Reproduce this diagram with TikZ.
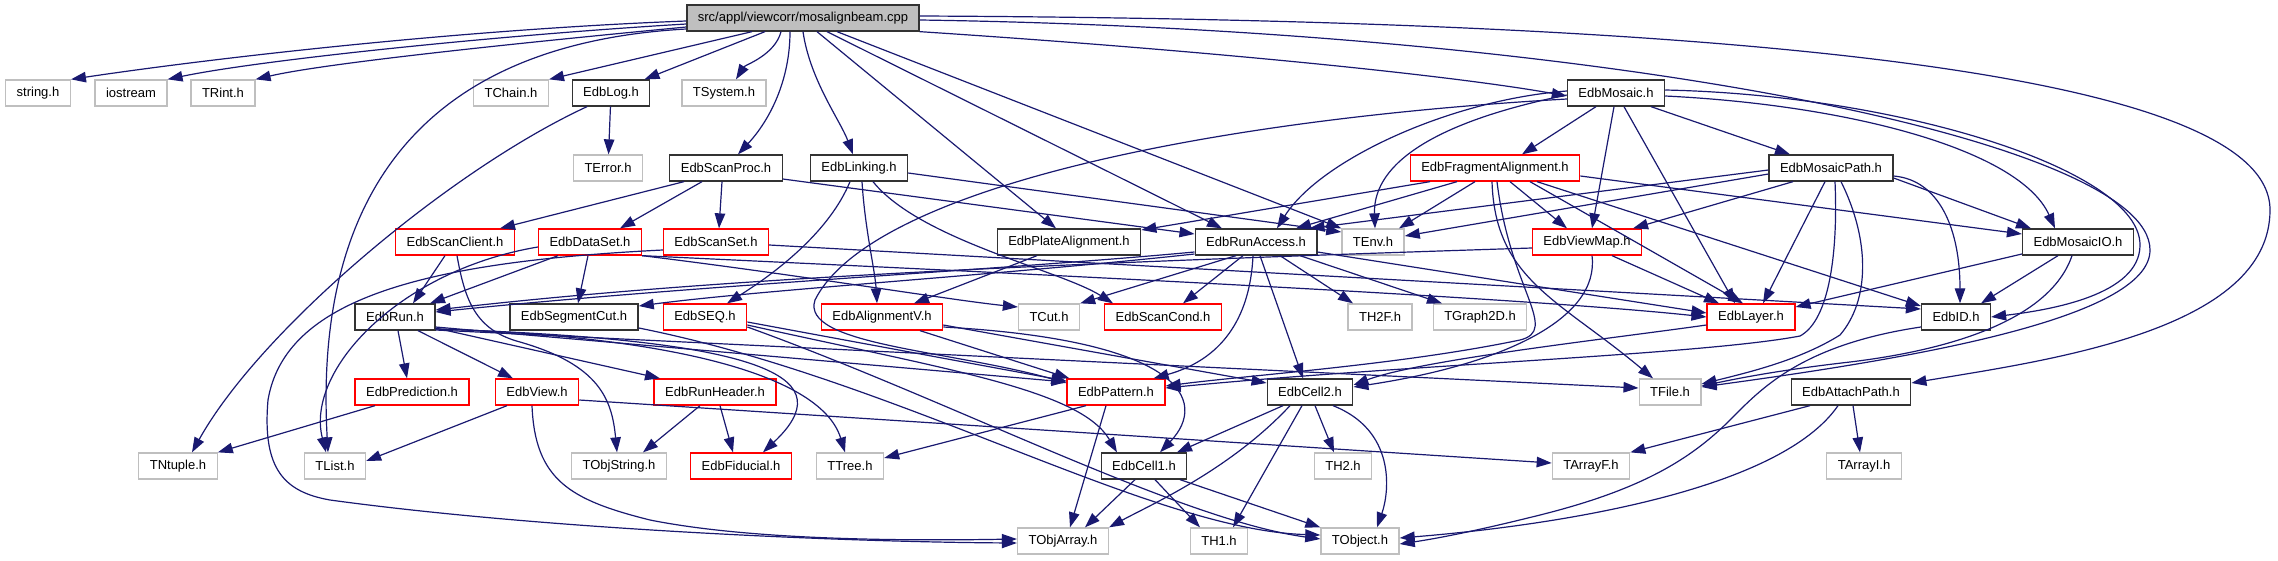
\documentclass[tikz,border=0pt]{standalone}
\usepackage{fontspec}
\setmainfont{Liberation Sans}
\usetikzlibrary{arrows.meta}

\definecolor{incblue}{HTML}{191970}
\definecolor{sysgray}{HTML}{BFBFBF}

\tikzset{
  file/.style={rectangle, minimum height=26pt, inner xsep=11pt, inner ysep=0pt,
    line width=1.3pt, fill=white, font=\fontsize{13}{15}\selectfont},
  doc/.style={file, draw=black!80},
  trunc/.style={file, draw=red},
  sys/.style={file, draw=sysgray},
  inc/.style={draw=incblue, line width=1.2pt, -{Triangle[length=15pt,width=10.5pt]}}
}

\begin{document}
\begin{tikzpicture}[x=1pt,y=-1pt]
    \useasboundingbox (0,0) rectangle (2278,560);

    % rank 0
    \node[doc, fill=sysgray] (root) at (803,18) {src/appl/viewcorr/mosalignbeam.cpp};
    % rank 1
    \node[sys] (strng) at (38,93) {string.h};
    \node[sys] (iostrm) at (131,93) {iostream};
    \node[sys] (trint) at (223,93) {TRint.h};
    \node[sys] (tchain) at (511,93) {TChain.h};
    \node[doc] (edblog) at (611,93) {EdbLog.h};
    \node[sys] (tsystem) at (724,93) {TSystem.h};
    \node[doc] (edbmosaic) at (1616,93) {EdbMosaic.h};
    % rank 2
    \node[sys] (terror) at (608,168) {TError.h};
    \node[doc] (scanproc) at (726,168) {EdbScanProc.h};
    \node[doc] (linking) at (859,168) {EdbLinking.h};
    \node[trunc] (fragalign) at (1495,168) {EdbFragmentAlignment.h};
    \node[doc] (mosaicpath) at (1831,168) {EdbMosaicPath.h};
    % rank 3
    \node[trunc] (scanclient) at (455,242) {EdbScanClient.h};
    \node[trunc] (dataset) at (590,242) {EdbDataSet.h};
    \node[trunc] (scanset) at (716,242) {EdbScanSet.h};
    \node[doc] (platealign) at (1069,242) {EdbPlateAlignment.h};
    \node[doc] (runaccess) at (1256,242) {EdbRunAccess.h};
    \node[sys] (tenv) at (1373,242) {TEnv.h};
    \node[trunc] (viewmap) at (1587,242) {EdbViewMap.h};
    \node[doc] (mosaicio) at (2078,242) {EdbMosaicIO.h};
    % rank 4
    \node[doc] (edbrun) at (395,317) {EdbRun.h};
    \node[doc] (segcut) at (574,317) {EdbSegmentCut.h};
    \node[trunc] (seq) at (705,317) {EdbSEQ.h};
    \node[trunc] (alignv) at (882,317) {EdbAlignmentV.h};
    \node[sys] (tcut) at (1049,317) {TCut.h};
    \node[trunc] (scancond) at (1163,317) {EdbScanCond.h};
    \node[sys] (thtwof) at (1380,317) {TH2F.h};
    \node[sys] (tgraph) at (1480,317) {TGraph2D.h};
    \node[trunc] (edblayer) at (1751,317) {EdbLayer.h};
    \node[doc] (edbid) at (1956,317) {EdbID.h};
    % rank 5
    \node[trunc] (prediction) at (412,392) {EdbPrediction.h};
    \node[trunc] (edbview) at (537,392) {EdbView.h};
    \node[trunc] (runheader) at (715,392) {EdbRunHeader.h};
    \node[trunc] (edbpattern) at (1116,392) {EdbPattern.h};
    \node[doc] (cellb) at (1310,392) {EdbCell2.h};
    \node[sys] (tfile) at (1670,392) {TFile.h};
    \node[doc] (attach) at (1851,392) {EdbAttachPath.h};
    % rank 6
    \node[sys] (tntuple) at (178,466) {TNtuple.h};
    \node[sys] (tlist) at (335,466) {TList.h};
    \node[sys] (tobjstring) at (619,466) {TObjString.h};
    \node[trunc] (fiducial) at (741,466) {EdbFiducial.h};
    \node[sys] (ttree) at (850,466) {TTree.h};
    \node[doc] (cella) at (1144,466) {EdbCell1.h};
    \node[sys] (thtwo) at (1343,466) {TH2.h};
    \node[sys] (tarrayf) at (1591,466) {TArrayF.h};
    \node[sys] (tarrayi) at (1864,466) {TArrayI.h};
    % rank 7
    \node[sys] (tobjarray) at (1063,541) {TObjArray.h};
    \node[sys] (thone) at (1219,541) {TH1.h};
    \node[sys] (tobject) at (1360,541) {TObject.h};

    % mosalignbeam.cpp
    \draw[inc] ([yshift=-3pt]root.west) .. controls (450,30) and (200,60) .. (strng.north east);
    \draw[inc] ([yshift=-6pt]root.west) .. controls (500,35) and (260,60) .. (iostrm.north east);
    \draw[inc] ([yshift=-9pt]root.west) .. controls (550,40) and (330,62) .. (trint.north east);
    \draw[inc] ([yshift=-11pt]root.west) .. controls (400,45) and (315,220) .. ([xshift=-7pt]tlist.north);
    \draw[inc] ([xshift=-51pt]root.south) -- (tchain.north east);
    \draw[inc] ([xshift=-38pt]root.south) -- ([xshift=-6pt]edblog.north east);
    \draw[inc] ([xshift=-22pt]root.south) .. controls (775,55) and (745,65) .. ([xshift=12pt]tsystem.north);
    \draw[inc] ([xshift=-13pt]root.south) .. controls (790,80) and (770,120) .. ([xshift=12pt]scanproc.north);
    \draw[inc] (root.south) .. controls (810,80) and (840,120) .. ([xshift=-6pt]linking.north);
    \draw[inc] ([xshift=14pt]root.south) -- ([xshift=-13pt]platealign.north);
    \draw[inc] ([xshift=24pt]root.south) -- ([xshift=-34pt]runaccess.north);
    \draw[inc] ([xshift=34pt]root.south) -- (tenv.north west);
    \draw[inc] (root.south east) .. controls (1200,50) and (1450,75) .. ([yshift=-3pt]edbmosaic.west);
    \draw[inc] ([yshift=-2pt]root.east) .. controls (1600,30) and (2150,140) .. (2150,250)
        .. controls (2150,320) and (1900,360) .. ([yshift=5pt]tfile.east);
    \draw[inc] ([yshift=2pt]root.east) .. controls (1800,20) and (2270,80) .. (2270,210)
        .. controls (2270,330) and (2050,360) .. ([yshift=9pt]attach.east);

    % EdbLog.h
    \draw[inc] (edblog) -- (terror);
    \draw[inc] ([xshift=-24pt]edblog.south) .. controls (450,170) and (260,330) .. ([xshift=14pt]tntuple.north);

    % EdbScanProc.h
    \draw[inc] ([xshift=-42pt]scanproc.south) -- ([xshift=45pt]scanclient.north);
    \draw[inc] ([xshift=-24pt]scanproc.south) -- ([xshift=30pt]dataset.north);
    \draw[inc] ([xshift=-4pt]scanproc.south) -- ([xshift=3pt]scanset.north);
    \draw[inc] ([yshift=-11pt]scanproc.east) -- ([yshift=8pt]runaccess.west);

    % EdbLinking.h
    \draw[inc] ([xshift=-9pt]linking.south) .. controls (830,230) and (780,270) .. ([xshift=22pt]seq.north);
    \draw[inc] ([xshift=3pt]linking.south) .. controls (865,230) and (875,270) .. ([xshift=-5pt]alignv.north);
    \draw[inc] ([xshift=14pt]linking.south) .. controls (920,240) and (1060,270) .. ([xshift=-50pt]scancond.north);
    \draw[inc] ([yshift=-5pt]linking.east) -- ([yshift=10pt]tenv.west);

    % EdbPlateAlignment.h
    \draw[inc] ([xshift=-32pt]platealign.south) -- ([xshift=32pt]alignv.north);

    % EdbFragmentAlignment.h
    \draw[inc] ([xshift=-65pt]fragalign.south) -- ([yshift=12pt]platealign.east);
    \draw[inc] ([xshift=-38pt]fragalign.south) -- ([xshift=40pt]runaccess.north);
    \draw[inc] ([xshift=-20pt]fragalign.south) -- ([xshift=26pt]tenv.north);
    \draw[inc] ([xshift=15pt]fragalign.south) -- ([xshift=-20pt]viewmap.north);
    \draw[inc] ([yshift=-8pt]fragalign.east) -- ([yshift=8pt]mosaicio.west);
    \draw[inc] ([xshift=35pt]fragalign.south) -- ([xshift=-8pt]edblayer.north);
    \draw[inc] ([xshift=42pt]fragalign.south) -- ([yshift=11pt]edbid.west);
    \draw[inc] ([xshift=-3pt]fragalign.south) .. controls (1495,280) and (1560,300) .. ([xshift=-17pt]tfile.north);
    \draw[inc] ([xshift=2pt]fragalign.south) .. controls (1510,290) and (1560,330) .. (1520,340)
        .. controls (1400,365) and (1250,375) .. ([yshift=6pt]edbpattern.east);

    % EdbMosaic.h
    \draw[inc] ([xshift=-20pt]edbmosaic.south) -- ([xshift=27pt]fragalign.north);
    \draw[inc] ([xshift=-2pt]edbmosaic.south) -- ([xshift=5pt]viewmap.north);
    \draw[inc] ([xshift=8pt]edbmosaic.south) -- ([xshift=-16pt]edblayer.north);
    \draw[inc] ([xshift=35pt]edbmosaic.south) -- ([xshift=-41pt]mosaicpath.north);
    \draw[inc] ([yshift=2pt]edbmosaic.west) .. controls (1450,100) and (1320,160) .. ([xshift=21pt]runaccess.north);
    \draw[inc] ([yshift=-2pt]edbmosaic.west) .. controls (1420,125) and (1373,170) .. ([xshift=2pt]tenv.north);
    \draw[inc] ([yshift=-6pt]edbmosaic.west) .. controls (1200,120) and (870,190) .. (815,300)
        .. controls (800,345) and (950,350) .. ([yshift=9pt]edbpattern.west);
    \draw[inc] ([yshift=-3pt]edbmosaic.east) .. controls (1850,105) and (2020,150) .. ([xshift=-23pt]mosaicio.north);
    \draw[inc] ([yshift=3pt]edbmosaic.east) .. controls (1900,95) and (2140,170) .. (2140,245)
        .. controls (2140,295) and (2050,310) .. (edbid.east);

    % EdbMosaicPath.h
    \draw[inc] ([yshift=-2pt]mosaicpath.west) -- ([xshift=-8pt]runaccess.north east);
    \draw[inc] ([yshift=-6pt]mosaicpath.west) -- ([yshift=6pt]tenv.east);
    \draw[inc] ([xshift=-38pt]mosaicpath.south) -- ([xshift=46pt]viewmap.north);
    \draw[inc] ([xshift=-6pt]mosaicpath.south) -- ([xshift=12pt]edblayer.north);
    \draw[inc] ([xshift=4pt]mosaicpath.south) .. controls (1838,250) and (1830,320) .. (1800,336)
        .. controls (1700,355) and (1400,365) .. ([yshift=4pt]edbpattern.east);
    \draw[inc] ([xshift=10pt]mosaicpath.south) .. controls (1870,240) and (1870,300) .. (1840,335)
        .. controls (1800,360) and (1750,372) .. ([yshift=8pt]tfile.east);
    \draw[inc] ([yshift=-8pt]mosaicpath.east) .. controls (1940,180) and (1960,230) .. ([xshift=4pt]edbid.north);
    \draw[inc] ([yshift=-10pt]mosaicpath.east) -- ([xshift=-47pt]mosaicio.north);

    % EdbMosaicIO.h
    \draw[inc] ([yshift=-12pt]mosaicio.west) -- ([yshift=10pt]edblayer.east);
    \draw[inc] ([xshift=-20pt]mosaicio.south) -- ([xshift=25pt]edbid.north);
    \draw[inc] ([xshift=-6pt]mosaicio.south) .. controls (2050,320) and (1950,350) .. (1850,362)
        .. controls (1780,370) and (1740,378) .. ([yshift=6pt]tfile.east);

    % EdbViewMap.h
    \draw[inc] ([xshift=25pt]viewmap.south) -- ([xshift=-32pt]edblayer.north);
    \draw[inc] ([xshift=5pt]viewmap.south) .. controls (1600,320) and (1500,365) .. ([yshift=5pt]cellb.east);
    \draw[inc] ([yshift=-6pt]viewmap.west) .. controls (1000,265) and (700,280) .. ([yshift=7pt]edbrun.east);

    % EdbRunAccess.h
    \draw[inc] ([yshift=-10pt]runaccess.west) .. controls (1000,270) and (700,285) .. ([yshift=5pt]edbrun.east);
    \draw[inc] ([yshift=-12pt]runaccess.west) .. controls (1000,275) and (760,290) .. ([yshift=11pt]segcut.east);
    \draw[inc] ([xshift=-20pt]runaccess.south) -- (tcut.north east);
    \draw[inc] ([xshift=-13pt]runaccess.south) -- ([xshift=20pt]scancond.north);
    \draw[inc] ([xshift=-3pt]runaccess.south) .. controls (1250,320) and (1220,360) .. ([xshift=-12pt]edbpattern.north east);
    \draw[inc] ([xshift=4pt]runaccess.south) -- ([xshift=-7pt]cellb.north);
    \draw[inc] ([xshift=24pt]runaccess.south) -- ([xshift=-27pt]thtwof.north);
    \draw[inc] ([xshift=44pt]runaccess.south) -- ([xshift=-38pt]tgraph.north);
    \draw[inc] ([yshift=-10pt]runaccess.east) -- ([yshift=4pt]edblayer.west);

    % EdbDataSet.h
    \draw[inc] ([xshift=-32pt]dataset.south) -- ([xshift=35pt]edbrun.north);
    \draw[inc] ([xshift=-2pt]dataset.south) -- ([xshift=4pt]segcut.north);
    \draw[inc] ([yshift=-5pt]dataset.west) .. controls (400,270) and (305,370) .. ([xshift=-9pt]tlist.north);
    \draw[inc] (dataset.south east) .. controls (800,275) and (950,300) .. ([yshift=10pt]tcut.west);
    \draw[inc] (dataset.south east) .. controls (900,268) and (1500,295) .. (edblayer.west);

    % EdbScanSet.h
    \draw[inc] ([yshift=-8pt]scanset.west) .. controls (420,262) and (285,300) .. (268,400)
        .. controls (262,470) and (285,492) .. (330,500)
        .. controls (550,530) and (850,542) .. ([yshift=-2pt]tobjarray.west);
    \draw[inc] ([yshift=-3pt]scanset.east) -- ([yshift=8pt]edbid.west);

    % EdbScanClient.h
    \draw[inc] ([xshift=-10pt]scanclient.south) -- ([xshift=18pt]edbrun.north);
    \draw[inc] ([xshift=2pt]scanclient.south) .. controls (465,300) and (475,330) .. (520,342)
        .. controls (600,365) and (612,400) .. ([xshift=-2pt]tobjstring.north);

    % EdbRun.h
    \draw[inc] ([xshift=3pt]edbrun.south) -- ([xshift=-5pt]prediction.north);
    \draw[inc] ([xshift=23pt]edbrun.south) -- ([xshift=-24pt]edbview.north);
    \draw[inc] ([yshift=-11pt]edbrun.east) -- ([xshift=-55pt]runheader.north);
    \draw[inc] ([yshift=-12pt]edbrun.east) .. controls (650,335) and (820,370) .. ([xshift=-5pt]ttree.north);
    \draw[inc] ([yshift=-12pt]edbrun.east) .. controls (780,340) and (840,380) .. ([xshift=22pt]fiducial.north);
    \draw[inc] ([yshift=-10pt]edbrun.east) -- ([yshift=10pt]edbpattern.west);
    \draw[inc] ([yshift=-13pt]edbrun.east) -- ([yshift=4pt]tfile.west);

    % EdbView.h
    \draw[inc] ([xshift=-30pt]edbview.south) -- ([yshift=5pt]tlist.east);
    \draw[inc] ([xshift=-5pt]edbview.south) .. controls (535,480) and (570,500) .. (650,520)
        .. controls (750,540) and (900,541) .. ([yshift=2pt]tobjarray.west);
    \draw[inc] ([yshift=-8pt]edbview.east) -- ([yshift=3pt]tarrayf.west);

    % EdbRunHeader.h, EdbPrediction.h
    \draw[inc] ([xshift=-15pt]runheader.south) -- ([xshift=24pt]tobjstring.north);
    \draw[inc] ([xshift=5pt]runheader.south) -- ([xshift=-8pt]fiducial.north);
    \draw[inc] ([xshift=-37pt]prediction.south) -- (tntuple.north east);

    % EdbSegmentCut.h, EdbSEQ.h, EdbAlignmentV.h
    \draw[inc] ([yshift=-11pt]segcut.east) .. controls (900,380) and (1150,530) .. ([yshift=6pt]tobject.west);
    \draw[inc] ([yshift=-5pt]seq.east) -- ([yshift=11pt]edbpattern.west);
    \draw[inc] ([yshift=-8pt]seq.east) .. controls (950,370) and (1080,390) .. ([xshift=-27pt]cella.north);
    \draw[inc] ([yshift=-10pt]seq.east) .. controls (950,400) and (1180,520) .. ([yshift=2pt]tobject.west);
    \draw[inc] ([xshift=38pt]alignv.south) -- ([xshift=3pt]edbpattern.north west);
    \draw[inc] ([yshift=-8pt]alignv.east) -- ([yshift=9pt]cellb.west);
    \draw[inc] ([yshift=-10pt]alignv.east) .. controls (1180,340) and (1210,400) .. ([xshift=16pt]cella.north);

    % EdbPattern.h
    \draw[inc] ([xshift=-30pt]edbpattern.south) -- ([yshift=8pt]ttree.east);
    \draw[inc] ([xshift=-10pt]edbpattern.south) -- ([xshift=7pt]tobjarray.north);

    % EdbCell2.h, EdbCell1.h
    \draw[inc] ([xshift=-27pt]cellb.south) -- ([xshift=33pt]cella.north);
    \draw[inc] ([xshift=-20pt]cellb.south) .. controls (1230,470) and (1150,505) .. (tobjarray.north east);
    \draw[inc] ([xshift=-8pt]cellb.south) -- ([xshift=14pt]thone.north);
    \draw[inc] ([xshift=5pt]cellb.south) -- ([xshift=-9pt]thtwo.north);
    \draw[inc] ([xshift=23pt]cellb.south) .. controls (1395,430) and (1390,490) .. ([xshift=17pt]tobject.north);
    \draw[inc] ([xshift=-9pt]cella.south) -- ([xshift=22pt]tobjarray.north);
    \draw[inc] ([xshift=11pt]cella.south) -- ([xshift=-19pt]thone.north);
    \draw[inc] ([xshift=36pt]cella.south) -- (tobject.north west);

    % EdbLayer.h, EdbID.h, EdbAttachPath.h
    \draw[inc] ([yshift=-8pt]edblayer.west) .. controls (1600,340) and (1420,360) .. ([yshift=7pt]cellb.east);
    \draw[inc] ([yshift=-10pt]edbid.west) .. controls (1800,345) and (1760,390) .. (1730,420)
        .. controls (1690,460) and (1640,490) .. (1540,515)
        .. controls (1480,530) and (1440,538) .. ([yshift=-3pt]tobject.east);
    \draw[inc] ([xshift=-41pt]attach.south) -- (tarrayf.north east);
    \draw[inc] ([xshift=2pt]attach.south) -- ([xshift=-4pt]tarrayi.north);
    \draw[inc] ([xshift=-13pt]attach.south) .. controls (1780,490) and (1560,525) .. ([yshift=3pt]tobject.east);

\end{tikzpicture}
\end{document}
